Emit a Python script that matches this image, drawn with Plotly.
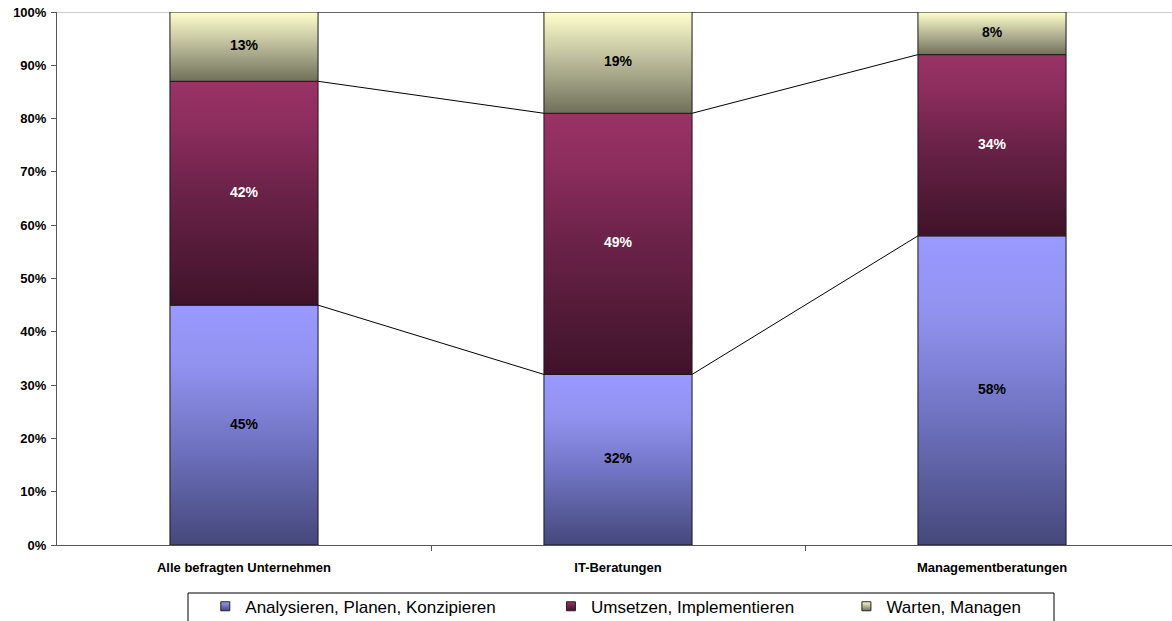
import plotly.graph_objects as go

categories = ["Alle befragten Unternehmen", "IT-Beratungen", "Managementberatungen"]
series_names = ["Analysieren, Planen, Konzipieren", "Umsetzen, Implementieren", "Warten, Managen"]
analysieren = [45, 32, 58]
umsetzen = [42, 49, 34]
warten = [13, 19, 8]
y_ticks = [0, 10, 20, 30, 40, 50, 60, 70, 80, 90, 100]

series_values = [analysieren, umsetzen, warten]
scales = [
    [[0, "#45487a"], [0.45, "#7376c6"], [0.75, "#9192ef"], [1, "#9999ff"]],
    [[0, "#3f1329"], [0.5, "#6a2248"], [0.8, "#8c2d5d"], [1, "#993366"]],
    [[0, "#70705a"], [0.5, "#b8b898"], [1, "#ffffcc"]],
]
label_colors = ["#000000", "#ffffff", "#000000"]
legend_top = ["#9999ff", "#993366", "#ffffcc"]
legend_bottom = ["#45487a", "#3f1329", "#70705a"]
legend_ids = ["legend", "legend2", "legend3"]
legend_x = [0.133, 0.443, 0.708]

bw = 0.396
font = "Liberation Sans, Arial, sans-serif"

fig = go.Figure()

bases, tops = [], []
cum = [0, 0, 0]
for vals in series_values:
    b = list(cum)
    t = [c + v for c, v in zip(cum, vals)]
    bases.append(b)
    tops.append(t)
    cum = t

for s, vals in enumerate(series_values):
    for i in range(len(categories)):
        x0, x1 = i - bw / 2, i + bw / 2
        y0, y1 = bases[s][i], tops[s][i]
        fig.add_trace(go.Scatter(
            x=[x0, x1, x1, x0, x0], y=[y0, y0, y1, y1, y0],
            mode="lines", fill="toself",
            fillgradient=dict(type="vertical", colorscale=scales[s], start=y0, stop=y1),
            line=dict(color="#1a1a1a", width=1),
            showlegend=False, hoverinfo="skip",
        ))

for s in range(len(series_values)):
    xs, ys = [], []
    for i in range(len(categories) - 1):
        xs += [i + bw / 2, i + 1 - bw / 2, None]
        ys += [tops[s][i], tops[s][i + 1], None]
    fig.add_trace(go.Scatter(x=xs, y=ys, mode="lines",
                             line=dict(color="#000000", width=1),
                             showlegend=False, hoverinfo="skip"))

for s, vals in enumerate(series_values):
    fig.add_trace(go.Scatter(
        x=list(range(len(categories))),
        y=[(b + t) / 2 for b, t in zip(bases[s], tops[s])],
        mode="text", text=[f"{v}%" for v in vals],
        textfont=dict(family=font, size=14, color=label_colors[s], weight="bold"),
        showlegend=False, hoverinfo="skip",
    ))

for s, name in enumerate(series_names):
    fig.add_trace(go.Scatter(
        x=[None], y=[None], mode="markers", name=name, legend=legend_ids[s],
        marker=dict(symbol="square", size=9, color=legend_top[s],
                    gradient=dict(type="vertical", color=legend_bottom[s]),
                    line=dict(color="#222222", width=1)),
    ))

fig.add_shape(type="line", xref="paper", yref="y", x0=0, x1=1, y0=100, y1=100,
              line=dict(color="#999999", width=1), layer="below")
# legend frame
fig.add_shape(type="rect", xref="paper", yref="paper",
              x0=(188 - 57) / 1115, x1=(1054 - 57) / 1115,
              y0=-(593 - 545) / 533, y1=-(625 - 545) / 533,
              line=dict(color="#000000", width=1), fillcolor="rgba(0,0,0,0)")

legend_common = dict(
    orientation="h", yanchor="middle", y=-0.1158, xanchor="left",
    borderwidth=0, bgcolor="rgba(0,0,0,0)",
    font=dict(family=font, size=17, color="#000000"),
)

fig.update_layout(
    width=1172, height=621,
    margin=dict(l=57, r=0, t=12, b=76, autoexpand=False),
    plot_bgcolor="white", paper_bgcolor="white",
    font=dict(family=font, color="#000000"),
    xaxis=dict(
        range=[-0.5, 2.5 - 7 / 374], showgrid=False, zeroline=False,
        tickvals=list(range(len(categories))), ticktext=categories,
        ticks="", showline=True, linecolor="#555555", linewidth=1,
        ticklabelstandoff=10,
        tickfont=dict(family=font, size=13, color="#000000", weight="bold"),
        minor=dict(tickvals=[0.5, 1.5], ticks="outside", ticklen=5, tickcolor="#555555"),
        fixedrange=True,
    ),
    yaxis=dict(
        range=[0, 100], showgrid=False, zeroline=False,
        tickvals=y_ticks, ticktext=[f"{v}%" for v in y_ticks],
        ticks="outside", ticklen=5, tickcolor="#555555",
        showline=True, linecolor="#555555", linewidth=1,
        ticklabelstandoff=2,
        tickfont=dict(family=font, size=13, color="#000000", weight="bold"),
        fixedrange=True,
    ),
    legend=dict(x=legend_x[0], **legend_common),
    legend2=dict(x=legend_x[1], **legend_common),
    legend3=dict(x=legend_x[2], **legend_common),
)

fig.write_html("out.html")
